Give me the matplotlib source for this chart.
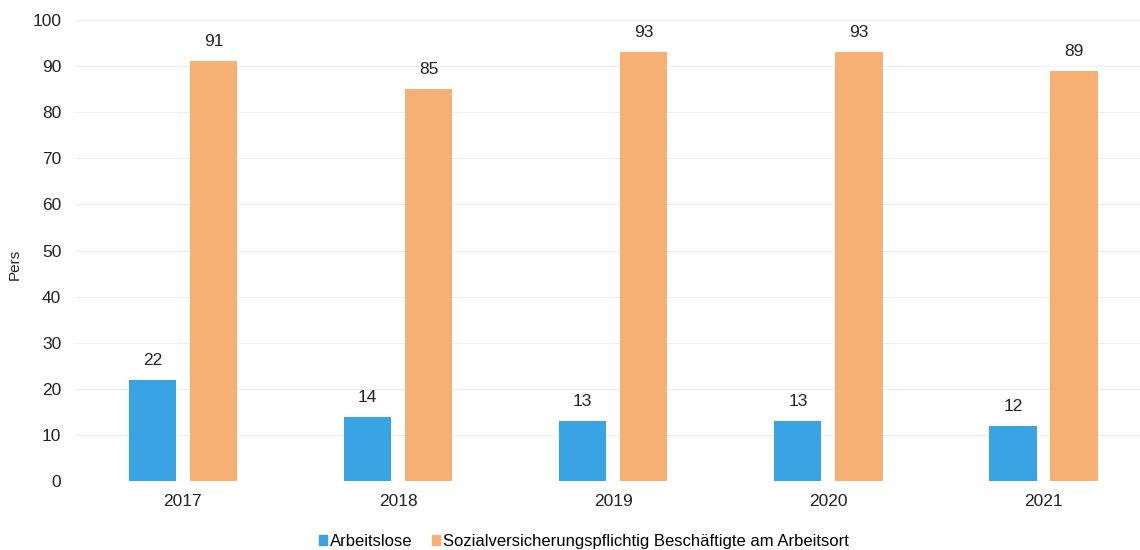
import numpy as np
import matplotlib.pyplot as plt
from matplotlib.patches import Patch

years = ['2017', '2018', '2019', '2020', '2021']
arbeitslose = [22, 14, 13, 13, 12]
beschaeftigte = [91, 85, 93, 93, 89]
series_names = ['Arbeitslose', 'Sozialversicherungspflichtig Beschäftigte am Arbeitsort']

blue = '#3aa3e3'
orange = '#f6b073'

plt.rcParams['font.family'] = ['Liberation Sans', 'DejaVu Sans']

fig = plt.figure(figsize=(11.4, 5.5), dpi=100)
ax = fig.add_axes([0.066, 0.125, 0.94, 0.839])

x = np.arange(len(years))
w = 0.22
off = 0.142
b1 = ax.bar(x - off, arbeitslose, w, color=blue)
b2 = ax.bar(x + off, beschaeftigte, w, color=orange)

# value labels above each bar
for bars in (b1, b2):
    for b in bars:
        ax.text(b.get_x() + b.get_width() / 2, b.get_height() + 2.6, '%d' % b.get_height(),
                ha='center', va='bottom', fontsize=12.5, color='#222222')

ax.set_ylim(0, 100)
ax.set_xlim(-0.5, len(years) - 0.52)
ax.set_yticks(range(0, 101, 10))
ax.set_xticks(x)
ax.set_xticklabels(years)
ax.tick_params(axis='both', length=0, labelsize=12.5, colors='#222222')
ax.tick_params(axis='y', pad=10)
ax.tick_params(axis='x', pad=9)
ax.yaxis.grid(True, color='#eeeeee', linewidth=0.8)
ax.set_axisbelow(True)
for s in ax.spines.values():
    s.set_visible(False)

fig.text(0.013, 0.52, 'Pers', rotation=90, ha='center', va='center', fontsize=11, color='#222222')

handles = [Patch(color=blue), Patch(color=orange)]
fig.legend(handles, series_names, loc='center', bbox_to_anchor=(0.512, 0.016), ncol=2,
           frameon=False, fontsize=12, handlelength=0.5, handleheight=0.5,
           handletextpad=0.15, columnspacing=1.2)

fig.savefig('out.png', dpi=100, facecolor='white')
